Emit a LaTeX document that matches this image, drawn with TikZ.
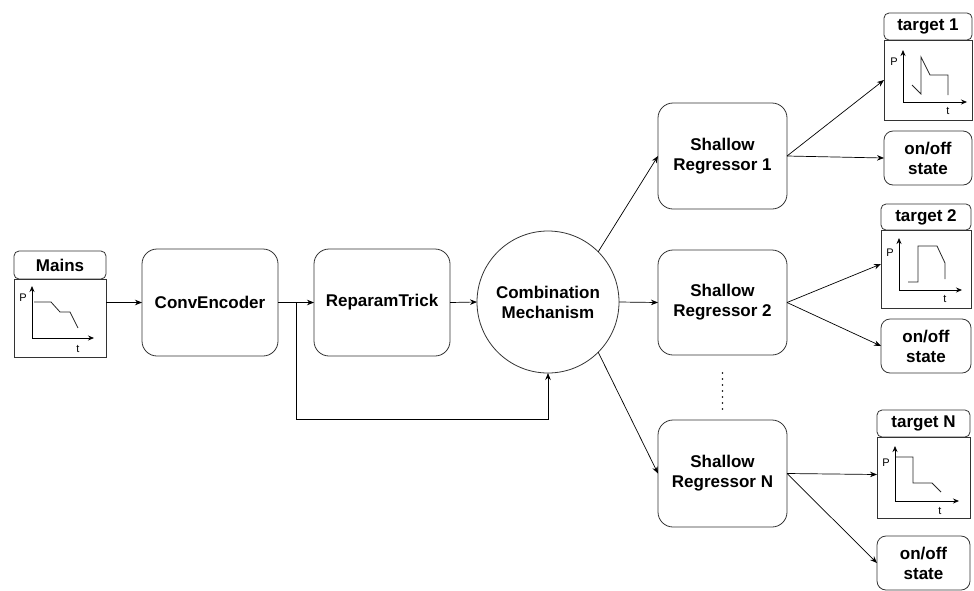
\documentclass[tikz,border=0pt]{standalone}
\usepackage{fontspec}
\setmainfont{Liberation Sans}
\usetikzlibrary{arrows.meta,calc}
\newcommand\blockfont{\fontsize{17}{20}\selectfont\bfseries}
\newcommand\axisfont{\fontsize{11}{13}\selectfont}
\tikzset{
  edge/.style={draw=black!80, line width=0.8pt},
  stepbox/.style={edge, rounded corners=15pt, inner sep=0pt, outer sep=0pt,
    minimum width=#1, align=center, font=\blockfont},
  hdr/.style={edge, rounded corners=5pt, inner sep=0pt, outer sep=0pt, font=\blockfont},
  plotarea/.style={edge, inner sep=0pt, outer sep=0pt},
  statebox/.style={edge, rounded corners=9pt, inner sep=0pt, outer sep=0pt,
    align=center, font=\blockfont},
  arr/.style={draw=black, line width=0.7pt, -{Stealth[length=7pt,width=5.5pt]}},
  axis/.style={draw=black, line width=0.8pt, -{Stealth[length=6pt,width=5pt]}},
  curve/.style={draw=black!85, line width=0.8pt},
}
\begin{document}
\begin{tikzpicture}[x=1pt,y=-1pt]
\useasboundingbox (0,0) rectangle (974,590);

% ---- input: aggregate (mains) signal
\node[hdr, minimum width=92pt, minimum height=28pt] (mainsHead) at (60,265) {Mains};
\node[plotarea, minimum width=92pt, minimum height=78pt] (mainsBody) at (60,318) {};
\draw[axis] (32,338) -- (32,286);
\draw[axis] (32,338) -- (94,338);
\node[font=\axisfont] (mainsP) at (23,298) {P};
\node[font=\axisfont] (mainsT) at (78,349) {t};
\draw[curve] (34,302) -- (51,302) -- (60,312) -- (70,312) -- (78,328);

% ---- encoder chain
\node[stepbox=136pt, minimum height=107pt] (conv) at (210,302.5) {ConvEncoder};
\node[stepbox=136pt, minimum height=107pt] (rep) at (382,302.5) {ReparamTrick};
\node[edge, circle, minimum size=142pt, inner sep=0pt, outer sep=0pt,
      align=center, font=\blockfont] (comb) at (548,302) {Combination\\Mechanism};

% ---- per-appliance regressors
\node[stepbox=129pt, minimum height=106pt] (sr1) at (722.5,156) {Shallow\\Regressor 1};
\node[stepbox=129pt, minimum height=105pt] (sr2) at (722.5,302.5) {Shallow\\Regressor 2};
\node[stepbox=129pt, minimum height=107pt] (srN) at (722.5,473.5) {Shallow\\Regressor N};

% ---- outputs of regressor 1
\node[hdr, minimum width=88pt, minimum height=27pt] (t1Head) at (928,26.5) {target 1};
\node[plotarea, minimum width=88pt, minimum height=80pt] (t1Body) at (928,80) {};
\draw[axis] (903,102) -- (903,50);
\draw[axis] (903,102) -- (967,102);
\node[font=\axisfont] (t1P) at (894,62) {P};
\node[font=\axisfont] (t1T) at (948,111) {t};
\draw[curve] (912,85) -- (921,94) -- (921,57) -- (930,75) -- (948,75) -- (948,95);
\node[statebox, minimum width=88pt, minimum height=54pt] (on1) at (928,158) {on/off\\state};

% ---- outputs of regressor 2
\node[hdr, minimum width=90pt, minimum height=26pt] (t2Head) at (926,217) {target 2};
\node[plotarea, minimum width=90pt, minimum height=78pt] (t2Body) at (926,269) {};
\draw[axis] (899,290) -- (899,238);
\draw[axis] (899,290) -- (962,290);
\node[font=\axisfont] (t2P) at (890,253) {P};
\node[font=\axisfont] (t2T) at (945,299) {t};
\draw[curve] (908,282) -- (918,282) -- (918,246) -- (937,246) -- (945,263) -- (945,279);
\node[statebox, minimum width=90pt, minimum height=54pt] (on2) at (926,346) {on/off\\state};

% ---- outputs of regressor N
\node[hdr, minimum width=93pt, minimum height=27pt] (tNHead) at (923.5,423.5) {target N};
\node[plotarea, minimum width=93pt, minimum height=81pt] (tNBody) at (923.5,477.5) {};
\draw[axis] (895,501) -- (895,446);
\draw[axis] (895,501) -- (959,501);
\node[font=\axisfont] (tNP) at (886,463) {P};
\node[font=\axisfont] (tNT) at (940,511) {t};
\draw[curve] (896,457) -- (913,457) -- (913,483) -- (932,483) -- (941,492);
\node[statebox, minimum width=93pt, minimum height=54pt] (onN) at (923.5,563) {on/off\\state};

% ---- connectors
\draw[arr] (conv.west -| mainsBody.east) -- (conv.west);
\draw[arr] (conv.east) -- (rep.west);
\coordinate (split) at ($(conv.east)!0.5!(rep.west)$);
\coordinate (skip) at ($(comb.south)+(0,46)$);
\draw[arr] (split) |- (skip) -- (comb.south);
\draw[arr] (rep.east) -- (comb.west);

\draw[arr] (comb.45) -- (sr1.west);
\draw[arr] (comb.east) -- (sr2.west);
\draw[arr] (comb.-45) -- (srN.west);

\draw[arr] (sr1.east) -- (t1Body.west);
\draw[arr] (sr1.east) -- (on1.west);
\draw[arr] (sr2.east) -- ($(t2Body.west)+(0,-5)$);
\draw[arr] (sr2.east) -- (on2.west);
\draw[arr] (srN.east) -- ($(tNBody.west)+(0,-3)$);
\draw[arr] (srN.east) -- (onN.west);

% ---- ellipsis between regressor 2 and regressor N
\draw[black, line width=1.8pt, line cap=round, dash pattern=on 0pt off 6pt]
  ($(sr2.south)+(0,18)$) -- ($(srN.north)+(0,-9)$);
\end{tikzpicture}
\end{document}
